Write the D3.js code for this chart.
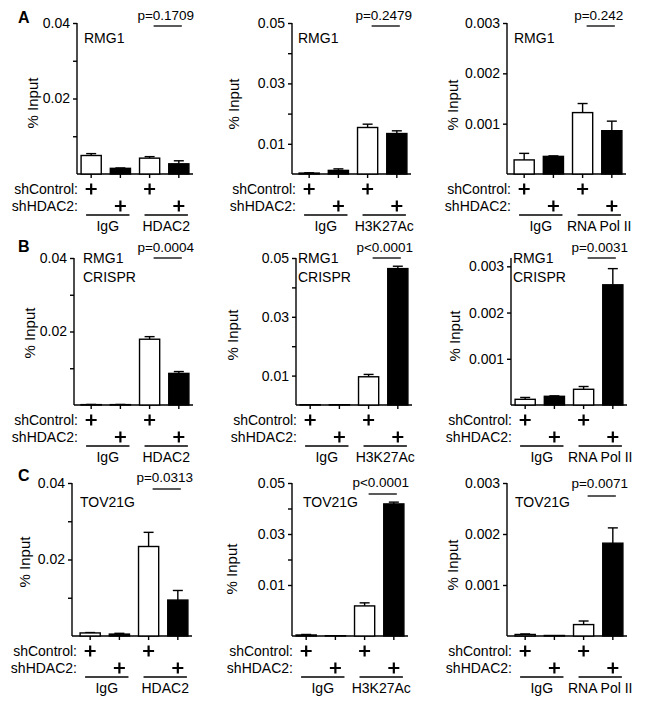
<!DOCTYPE html>
<html>
<head>
<meta charset="utf-8">
<script src="https://cdn.jsdelivr.net/npm/d3@7"></script>
<style>
  body { margin: 0; background: #fff; }
  text { font-family: "Liberation Sans", Arial, sans-serif; fill: #000; }
</style>
</head>
<body>
<script>
// bar order in every panel: IgG/shControl, IgG/shHDAC2, ChIP/shControl, ChIP/shHDAC2
const barKeys = ["igg_ctrl", "igg_hdac2", "chip_ctrl", "chip_hdac2"];
const rowLetters = ["A", "B", "C"];
const antibodies = ["HDAC2", "H3K27Ac", "RNA Pol II"];
const cellLabels = [["RMG1"], ["RMG1", "CRISPR"], ["TOV21G"]];

// % input means, one array per row, one sub-array per antibody
const meansA = [[0.0049, 0.0015, 0.0042, 0.0027], [0.0003, 0.0012, 0.0154, 0.0134], [0.00028, 0.00035, 0.00122, 0.00086]];
const meansB = [[0.0001, 0.0001, 0.0179, 0.0086], [0.0001, 0.0001, 0.0096, 0.0464], [0.000123, 0.000188, 0.00034, 0.0026]];
const meansC = [[0.0008, 0.0005, 0.0234, 0.0094], [0.0002, 0.00005, 0.0059, 0.0418], [0.00003, 0.00001, 0.000224, 0.00182]];
// error (upper) bars
const semA = [[0.0005, 0.0001, 0.0004, 0.0008], [0.0001, 0.0005, 0.0011, 0.0009], [0.00013, 0.00001, 0.00018, 0.00019]];
const semB = [[0.00005, 0.00005, 0.0007, 0.0005], [0, 0, 0.0008, 0.0008], [0.00004, 0.00001, 0.00006, 0.00035]];
const semC = [[0.0001, 0.0002, 0.0037, 0.0025], [0.0001, 0, 0.0006, 0.0007], [0.00001, 0, 0.00007, 0.0003]];

const pA = ["p=0.1709", "p=0.2479", "p=0.242"];
const pB = ["p=0.0004", "p<0.0001", "p=0.0031"];
const pC = ["p=0.0313", "p<0.0001", "p=0.0071"];

// y axes (labelled ticks, unlabelled ticks, domain)
const tickLabels = [[0.02, 0.04], [0.01, 0.03, 0.05], [0.001, 0.002, 0.003]];
const minorTicks = [[0.01, 0.03], [0.02, 0.04], []];
const yDomains = [
  [[0, 0.04], [0, 0.05], [0, 0.003]],
  [[0, 0.04], [0, 0.05], [0, 0.00318]],
  [[0, 0.04], [0, 0.01, 0.05], [0, 0.003]]
];

const means = [meansA, meansB, meansC];
const sems = [semA, semB, semC];
const pvals = [pA, pB, pC];

// layout
const W = 645, H = 705;
const colX = [0, 215, 430];
const rowY = [0, 235, 470];
const rowTop = [23, 258, 483];
const rowBase = [174, 405, 636];
const axisX = [[77, 77, 77], [74, 81, 81], [72, 77, 77]];
const band0 = [[77, 80, 80], [77, 81, 81], [76, 77, 81]];
const bandW = 116;
const yLabX = [[33, 19, 23], [30, 18, 25], [25, 17, 23]];
const yLabY = [[103, 104, 105], [98, 100, 101], [92, 99, 95]];
const cellX = [[84, 83, 84], [83, 83, 83], [80, 88, 85]];
const cellY = [[43, 41, 40], [28, 47, 0], [37, 42, 42]];
const pLineY = [[26, 26, 26], [23, 23, 23], [19, 24, 26]];
const pTextY = [[20, 20, 20], [17, 17, 17], [12, 17, 18]];
const letterY = [23, 252, 481];

const svg = d3.select("body").append("svg")
  .attr("width", W).attr("height", H);

svg.selectAll(".letter")
  .data(rowLetters)
  .enter().append("text")
  .attr("x", 18)
  .attr("y", (d, i) => letterY[i])
  .style("font-size", "16px")
  .style("font-weight", "bold")
  .text(d => d);

for (let r = 0; r < 3; r++) {
  for (let c = 0; c < 3; c++) {
    const g = svg.append("g").attr("transform", "translate(" + colX[c] + ",0)");
    const base = rowBase[r], top = rowTop[r];
    const dom = yDomains[r][c];
    let rng;
    if (dom.length === 3) rng = [base, base - (base - top) / 3, top];
    else rng = [base, top];
    const y = d3.scaleLinear().domain(dom).range(rng);
    const x = d3.scaleBand().domain(barKeys)
      .range([band0[r][c], band0[r][c] + bandW])
      .paddingInner(0.31).paddingOuter(0.14);
    const bw = x.bandwidth();
    const ax = axisX[r][c];

    const data = barKeys.map((k, i) => ({ key: k, mean: means[r][c][i], sem: sems[r][c][i], fill: i % 2 ? "#000" : "#fff" }));

    // y axis
    const yAxis = g.append("g")
      .attr("transform", "translate(" + ax + ",0)")
      .call(d3.axisLeft(y).tickValues(tickLabels[c]).tickSizeOuter(0).tickSize(4).tickPadding(3)
        .tickFormat(d => String(d)));
    yAxis.select(".domain").attr("d", "M0," + base + "V" + y(dom[dom.length - 1]));
    if (minorTicks[c].length) {
      g.append("g")
        .attr("transform", "translate(" + ax + ",0)")
        .call(d3.axisLeft(y).tickValues(minorTicks[c]).tickSize(4).tickFormat(""))
        .select(".domain").remove();
    }
    g.selectAll(".tick text").style("font-size", "14px").attr("fill", "#000");
    g.selectAll(".tick line, .domain").attr("stroke", "#000").attr("stroke-width", 1.4);

    // x baseline and ticks under the bars
    const xAxis = g.append("g")
      .attr("transform", "translate(0," + base + ")")
      .call(d3.axisBottom(x).tickSize(4).tickFormat(""));
    xAxis.select(".domain").remove();
    xAxis.selectAll(".tick line").attr("stroke", "#000").attr("stroke-width", 1.4);
    g.append("line")
      .attr("x1", ax).attr("x2", band0[r][c] + bandW)
      .attr("y1", base).attr("y2", base)
      .attr("stroke", "#000").attr("stroke-width", 1.4);

    // error bars (upper only)
    const eb = g.selectAll(".err").data(data.filter(d => d.sem > 0)).enter().append("g");
    eb.append("line")
      .attr("x1", d => x(d.key) + bw / 2).attr("x2", d => x(d.key) + bw / 2)
      .attr("y1", d => y(d.mean)).attr("y2", d => y(d.mean + d.sem))
      .attr("stroke", "#000").attr("stroke-width", 1.4);
    eb.append("line")
      .attr("x1", d => x(d.key) + bw / 2 - 5).attr("x2", d => x(d.key) + bw / 2 + 5)
      .attr("y1", d => y(d.mean + d.sem)).attr("y2", d => y(d.mean + d.sem))
      .attr("stroke", "#000").attr("stroke-width", 1.4);

    // bars
    g.selectAll(".bar").data(data).enter().append("rect")
      .attr("class", "bar")
      .attr("x", d => x(d.key))
      .attr("width", bw)
      .attr("y", d => y(d.mean))
      .attr("height", d => base - y(d.mean))
      .attr("fill", d => d.fill)
      .attr("stroke", "#000")
      .attr("stroke-width", 1.4);

    // y label
    g.append("text")
      .attr("transform", "translate(" + yLabX[r][c] + "," + (rowY[r] + yLabY[r][c]) + ") rotate(-90)")
      .attr("text-anchor", "middle")
      .attr("dy", "0.35em")
      .style("font-size", "15px")
      .text("% Input");

    // cell line label
    cellLabels[r].forEach((t, i) => {
      g.append("text")
        .attr("x", cellX[r][c])
        .attr("y", rowY[r] + cellY[r][0] + i * 19)
        .style("font-size", "14px")
        .text(t);
    });

    // p value
    const px1 = x(barKeys[2]) + bw / 2 + 4, px2 = x(barKeys[3]) + bw / 2 + 3;
    g.append("line")
      .attr("x1", px1).attr("x2", px2)
      .attr("y1", rowY[r] + pLineY[r][c]).attr("y2", rowY[r] + pLineY[r][c])
      .attr("stroke", "#000").attr("stroke-width", 1.3);
    g.append("text")
      .attr("x", (px1 + px2) / 2 - 2)
      .attr("y", rowY[r] + pTextY[r][c])
      .attr("text-anchor", "middle")
      .style("font-size", "13.5px")
      .text(pvals[r][c]);

    // condition rows
    const labX = band0[r][c] + 1;
    [["shControl:", 15], ["shHDAC2:", 32]].forEach(([t, dy]) => {
      g.append("text")
        .attr("x", labX).attr("y", base + dy + 5)
        .attr("text-anchor", "end")
        .style("font-size", "14px")
        .text(t);
    });
    const plus = data.map((d, i) => ({ cx: x(d.key) + bw / 2, cy: base + (i % 2 ? 32 : 15) }));
    g.selectAll(".plus").data(plus).enter().append("path")
      .attr("d", d => "M" + (d.cx - 5.5) + "," + d.cy + "h11M" + d.cx + "," + (d.cy - 5.5) + "v11")
      .attr("stroke", "#000").attr("stroke-width", 2.2);

    // group underlines and names
    const grp = [["IgG", barKeys[0], barKeys[1]], [antibodies[c], barKeys[2], barKeys[3]]];
    grp.forEach(([name, a, b]) => {
      const gx1 = x(a) + 5, gx2 = x(b) + bw - 1;
      g.append("line")
        .attr("x1", gx1).attr("x2", gx2)
        .attr("y1", base + 41).attr("y2", base + 41)
        .attr("stroke", "#000").attr("stroke-width", 1.3);
      g.append("text")
        .attr("x", (gx1 + gx2) / 2)
        .attr("y", base + 57)
        .attr("text-anchor", "middle")
        .style("font-size", "14px")
        .text(name);
    });
  }
}
</script>
</body>
</html>
